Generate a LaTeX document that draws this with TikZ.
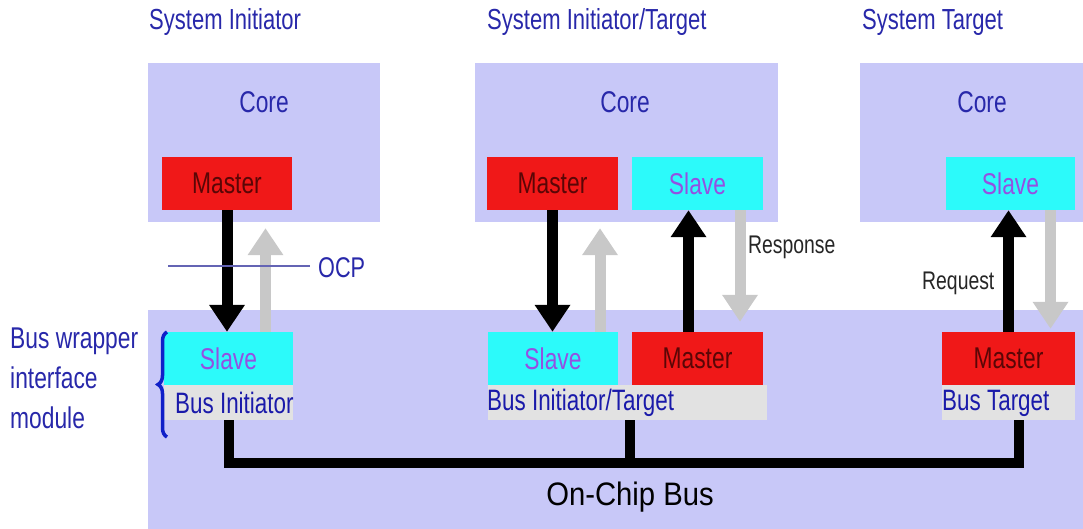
\documentclass[tikz,border=0pt]{standalone}
\usepackage{fontspec}
\setmainfont{Liberation Sans}[FakeStretch=0.76]
\newfontfamily\busfont{Liberation Sans}[FakeStretch=0.9]
\usetikzlibrary{arrows.meta,decorations.pathreplacing}

\definecolor{lav}{RGB}{200,200,248}
\definecolor{mred}{RGB}{240,24,24}
\definecolor{mtext}{RGB}{90,6,6}
\definecolor{scyan}{RGB}{44,250,250}
\definecolor{stext}{RGB}{148,80,226}
\definecolor{strip}{RGB}{226,226,226}
\definecolor{agrey}{RGB}{200,200,200}
\definecolor{navy}{RGB}{40,40,170}
\definecolor{busblue}{RGB}{26,26,170}
\definecolor{bracecol}{RGB}{16,32,200}
\definecolor{ocpline}{RGB}{100,100,180}

\begin{document}
\begin{tikzpicture}[x=1pt,y=-1pt,
  panel/.style={fill=lav, draw=none, inner sep=0pt},
  unit/.style={draw=none, inner sep=0pt, minimum height=53pt,
    font=\fontsize{30}{36}\selectfont},
  masterbox/.style={unit, fill=mred, text=mtext},
  slavebox/.style={unit, fill=scyan, text=stext},
  stripbox/.style={fill=strip, draw=none, inner sep=0pt, minimum height=35pt},
  title/.style={anchor=west, inner sep=0pt, text=navy, font=\fontsize{29}{35}\selectfont},
  coretxt/.style={inner sep=0pt, text=navy, font=\fontsize{30}{36}\selectfont},
  striptxt/.style={anchor=west, inner sep=0pt, text=busblue, font=\fontsize{29.5}{35}\selectfont},
  note/.style={anchor=west, inner sep=0pt, text=black!85, font=\fontsize{25.5}{30}\selectfont},
  blackarrow/.style={line width=11pt, black, -{Triangle[length=27pt,width=34pt]}},
  greyarrow/.style={line width=11pt, agrey, -{Triangle[length=27pt,width=34pt]}},
  bus/.style={line width=10pt, black, line join=miter}
]
\useasboundingbox (0,0) rectangle (1083,529);
\fill[white] (0,0) rectangle (1083,529);

% headings
\node[title] (t1) at (149,22) {System Initiator};
\node[title] (t2) at (487,22) {System Initiator/Target};
\node[title] (t3) at (862,22) {System Target};

% core panels
\node[panel, minimum width=232pt, minimum height=159pt] (lcore) at (264,142.5) {};
\node[panel, minimum width=303pt, minimum height=159pt] (mcore) at (626.5,142.5) {};
\node[panel, minimum width=223pt, minimum height=159pt] (rcore) at (971.5,142.5) {};
\node[coretxt] (c1) at (264,102) {Core};
\node[coretxt] (c2) at (625,102) {Core};
\node[coretxt] (c3) at (982,102) {Core};

% bus wrapper panel
\node[panel, minimum width=935pt, minimum height=219pt] (buspanel) at (615.5,419.5) {};

% core interfaces
\node[masterbox, minimum width=130pt] (lmaster) at (227,183.5) {Master};
\node[masterbox, minimum width=131pt] (mmaster) at (552.5,183.5) {Master};
\node[slavebox, minimum width=131pt] (tslave) at (697.5,183.5) {Slave};
\node[slavebox, minimum width=129pt] (rslave) at (1010.5,183.5) {Slave};

% wrapper interfaces
\node[stripbox, minimum width=129pt] (lstrip) at (228.5,402.5) {};
\node[stripbox, minimum width=279pt] (mstrip) at (627.5,402.5) {};
\node[stripbox, minimum width=133pt] (rstrip) at (1008.5,402.5) {};
\node[slavebox, minimum width=129pt] (lslave) at (228.5,358.5) {Slave};
\node[slavebox, minimum width=130pt] (mslave) at (553,358.5) {Slave};
\node[masterbox, minimum width=131pt] (bmaster) at (697.5,358.5) {Master};
\node[masterbox, minimum width=133pt] (rmaster) at (1008.5,358.5) {Master};
\node[striptxt] (s1) at (175,403) {Bus Initiator};
\node[striptxt] (s2) at (487,403) {Bus Initiator/Target};
\node[striptxt] (s3) at (942,403) {Bus Target};

% end points of the grey return arrows
\path ([xshift=37pt]lslave.north) coordinate (lgA)
      (lgA |- lcore.south) ++(0,6) coordinate (lgB);
\path ([xshift=47pt]mslave.north) coordinate (mgA)
      (mgA |- mcore.south) ++(0,6) coordinate (mgB);
\path ([xshift=42.5pt]tslave.south) coordinate (tgA)
      (tgA |- bmaster.north) ++(0,-10) coordinate (tgB);
\path ([xshift=40pt]rslave.south) coordinate (rgA)
      (rgA |- rmaster.north) ++(0,-3) coordinate (rgB);

% arrows
\draw[blackarrow] (lmaster.south) -- (lmaster.south |- lslave.north);
\draw[greyarrow] (lgA) -- (lgB);
\draw[blackarrow] (mmaster.south) -- (mmaster.south |- mslave.north);
\draw[greyarrow] (mgA) -- (mgB);
\draw[blackarrow] ([xshift=-9pt]bmaster.north) -- ([xshift=-9pt]bmaster.north |- tslave.south);
\draw[greyarrow] (tgA) -- (tgB);
\draw[blackarrow] (rmaster.north) -- (rmaster.north |- rslave.south);
\draw[greyarrow] (rgA) -- (rgB);

% OCP boundary
\coordinate (ocpL) at (168,266);
\node[anchor=west, inner sep=0pt, text=navy, font=\fontsize{28.5}{34}\selectfont] (ocp) at (318,268) {OCP};
\draw[ocpline, line width=1.6pt] (ocpL) -- ([xshift=-8pt]ocpL -| ocp.west);
\node[note] (resp) at (748,247) {Response};
\node[note] (req) at (922,283) {Request};

% on-chip bus
\coordinate (busline) at (0,463);
\draw[bus] (lstrip.south) -- (lstrip.south |- busline) -- ([xshift=10pt]rstrip.south |- busline) -- ([xshift=10pt]rstrip.south);
\draw[bus] ([xshift=2.5pt]mstrip.south) -- ([xshift=2.5pt]mstrip.south |- busline);
\node[inner sep=0pt, font=\busfont\fontsize{32.5}{39}\selectfont] (ocb) at (630,497) {On-Chip Bus};

% bus wrapper label
\node[anchor=north west, inner sep=0pt, align=left, text=navy,
      font=\fontsize{30}{40}\selectfont] (bw) at (10,328) {Bus wrapper\\interface\\module};
\draw[bracecol, line width=3.5pt, decorate, decoration={brace, amplitude=9pt}]
  (167,437) -- (167,332);
\end{tikzpicture}
\end{document}
